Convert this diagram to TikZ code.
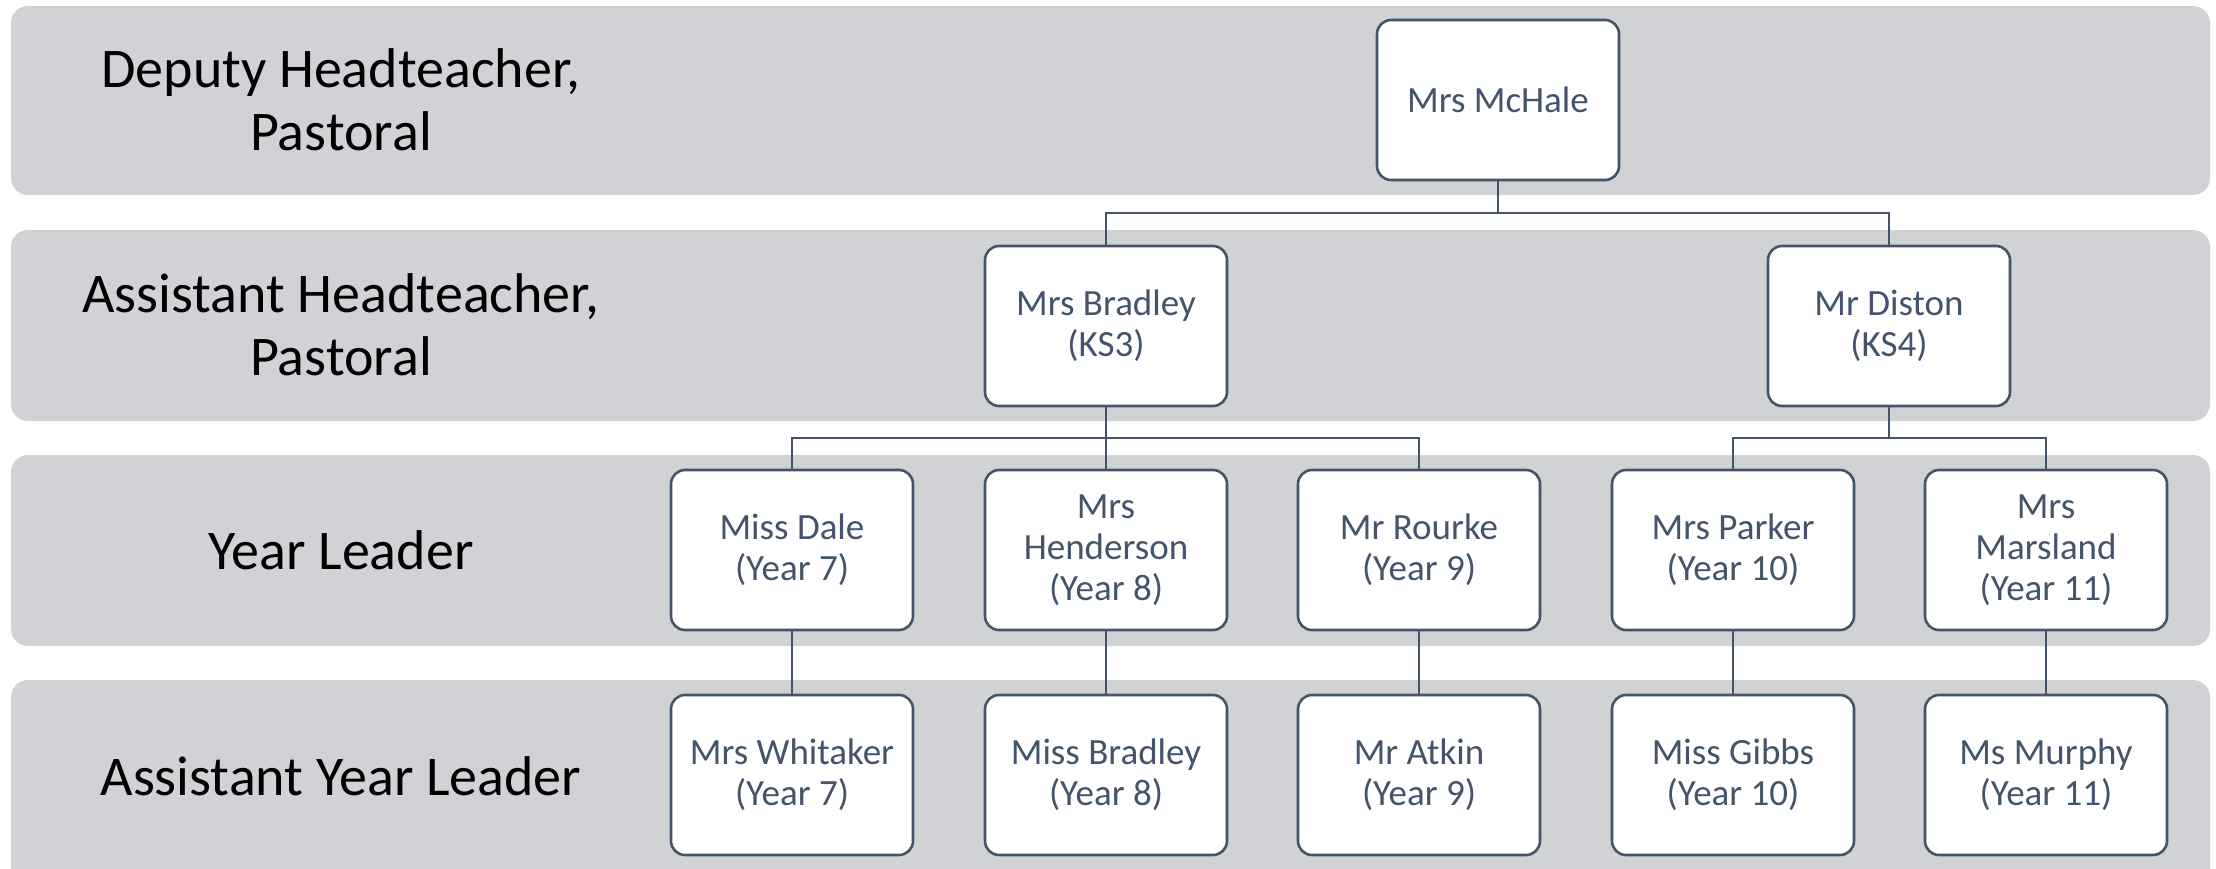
\documentclass[tikz,border=0pt]{standalone}
\usepackage{fontspec}
\setmainfont{Carlito}
\definecolor{bandgray}{HTML}{D0D2D6}
\definecolor{slate}{HTML}{44546A}
\tikzset{
  band/.style={fill=bandgray, draw=none, rounded corners=17pt},
  bandlabel/.style={align=center, text=black, font=\fontsize{56}{63}\selectfont},
  person/.style={draw=slate, line width=2.6pt, fill=white, rounded corners=14pt,
    minimum width=242pt, minimum height=160pt, align=center, text=slate,
    font=\fontsize{37}{41}\selectfont, inner sep=0pt},
  link/.style={draw=slate, line width=2pt}
}
\begin{document}
\begin{tikzpicture}[x=1pt,y=-1pt]
\useasboundingbox (0,0) rectangle (2216,868);
% bands
\fill[band] (11,6) rectangle (2210,195);
\fill[band] (11,230) rectangle (2210,421);
\fill[band] (11,455) rectangle (2210,646);
\fill[band] (11,680) rectangle (2210,900);
% band labels
\node[bandlabel] (l1) at (341,100) {Deputy Headteacher,\\Pastoral};
\node[bandlabel] (l2) at (341,325) {Assistant Headteacher,\\Pastoral};
\node[bandlabel] (l3) at (341,550) {Year Leader};
\node[bandlabel] (l4) at (341,776) {Assistant Year Leader};
% people
\node[person] (mchale) at (1498,100) {Mrs McHale};
\node[person] (bradley) at (1106,326) {Mrs Bradley\\(KS3)};
\node[person] (diston) at (1889,326) {Mr Diston\\(KS4)};
\node[person] (dale) at (792,550) {Miss Dale\\(Year 7)};
\node[person] (henderson) at (1106,550) {Mrs\\Henderson\\(Year 8)};
\node[person] (rourke) at (1419,550) {Mr Rourke\\(Year 9)};
\node[person] (parker) at (1733,550) {Mrs Parker\\(Year 10)};
\node[person] (marsland) at (2046,550) {Mrs\\Marsland\\(Year 11)};
\node[person] (whitaker) at (792,775) {Mrs Whitaker\\(Year 7)};
\node[person] (mbradley) at (1106,775) {Miss Bradley\\(Year 8)};
\node[person] (atkin) at (1419,775) {Mr Atkin\\(Year 9)};
\node[person] (gibbs) at (1733,775) {Miss Gibbs\\(Year 10)};
\node[person] (murphy) at (2046,775) {Ms Murphy\\(Year 11)};
% junctions
\coordinate (j1) at (1498,213);
\coordinate (j2) at (1106,438);
\coordinate (j3) at (1889,438);
% connectors
\draw[link] (mchale.south) -- (j1);
\draw[link] (j1) -| (bradley.north);
\draw[link] (j1) -| (diston.north);
\draw[link] (bradley.south) -- (henderson.north);
\draw[link] (j2) -| (dale.north);
\draw[link] (j2) -| (rourke.north);
\draw[link] (diston.south) -- (j3);
\draw[link] (j3) -| (parker.north);
\draw[link] (j3) -| (marsland.north);
\draw[link] (dale.south) -- (whitaker.north);
\draw[link] (henderson.south) -- (mbradley.north);
\draw[link] (rourke.south) -- (atkin.north);
\draw[link] (parker.south) -- (gibbs.north);
\draw[link] (marsland.south) -- (murphy.north);
\end{tikzpicture}
\end{document}
